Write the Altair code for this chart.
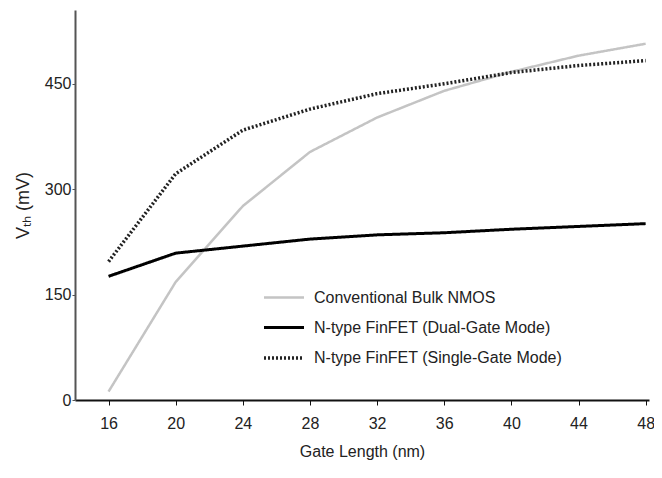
import altair as alt
import pandas as pd

gate_length = [16, 20, 24, 28, 32, 36, 40, 44, 48]
bulk = [12, 168, 276, 353, 402, 440, 467, 490, 507]
dual_gate = [176, 209, 219, 229, 235, 238, 243, 247, 251]
single_gate = [197, 322, 384, 414, 436, 450, 466, 476, 483]

series_names = [
    "Conventional Bulk NMOS",
    "N-type FinFET (Dual-Gate Mode)",
    "N-type FinFET (Single-Gate Mode)",
]

rows = []
for name, vals in zip(series_names, [bulk, dual_gate, single_gate]):
    for g, v in zip(gate_length, vals):
        rows.append({"Gate Length": g, "Vth": v, "Series": name})
df = pd.DataFrame(rows)

FONT = "Liberation Sans"

legend = alt.Legend(
    title=None,
    orient="none",
    legendX=187,
    legendY=266,
    symbolType="stroke",
    symbolSize=1600,
    labelFont=FONT,
    labelFontSize=16,
    labelColor="#222",
    labelLimit=400,
    rowPadding=-12,
    labelOffset=8,
    padding=0,
)

chart = (
    alt.Chart(df)
    .mark_line()
    .encode(
        x=alt.X(
            "Gate Length:Q",
            scale=alt.Scale(domain=[14, 48.2], nice=False, zero=False),
            axis=alt.Axis(
                title="Gate Length (nm)",
                values=gate_length,
                grid=False,
                domainColor="#111",
                domainWidth=2,
                tickColor="#111",
                tickSize=5,
                labelFont=FONT,
                labelFontSize=16,
                labelColor="#222",
                labelPadding=10,
                titleFont=FONT,
                titleFontSize=16,
                titleFontWeight="normal",
                titleColor="#222",
                titlePadding=12,
            ),
        ),
        y=alt.Y(
            "Vth:Q",
            scale=alt.Scale(domain=[0, 555], nice=False),
            axis=alt.Axis(
                title="Vₜₕ (mV)",
                values=[0, 150, 300, 450],
                grid=False,
                domainColor="#555",
                domainWidth=2,
                tickColor="#555",
                tickSize=3,
                labelFont=FONT,
                labelFontSize=16,
                labelColor="#222",
                labelPadding=1,
                titleFont=FONT,
                titleFontSize=18,
                titleFontWeight="normal",
                titleColor="#222",
                titlePadding=12,
            ),
        ),
        color=alt.Color(
            "Series:N",
            scale=alt.Scale(domain=series_names, range=["#c4c4c4", "#000000", "#222222"]),
            legend=legend,
        ),
        strokeDash=alt.StrokeDash(
            "Series:N",
            scale=alt.Scale(domain=series_names, range=[[1, 0], [1, 0], [2, 2]]),
            legend=legend,
        ),
        strokeWidth=alt.StrokeWidth(
            "Series:N",
            scale=alt.Scale(domain=series_names, range=[2.5, 3.5, 2]),
            legend=legend,
        ),
    )
    .properties(
        width=574,
        height=390,
        autosize=alt.AutoSizeParams(type="none"),
        padding={"left": 67, "top": 2, "right": 5, "bottom": 60},
    )
    .configure_view(stroke=None)
)

chart.save("out.html", embed_options={"renderer": "svg", "actions": False})
